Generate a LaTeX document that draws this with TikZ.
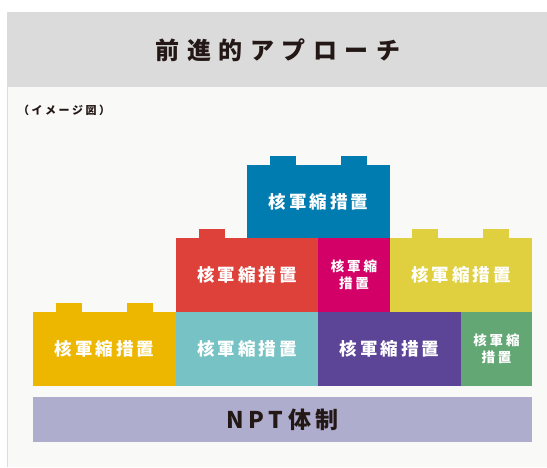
\documentclass[tikz,border=0pt]{standalone}
\usepackage{fontspec}
\newfontfamily\jp{Noto Sans CJK JP}
\usetikzlibrary{positioning}
\usetikzlibrary{calc}

\definecolor{hdrGray}{HTML}{DBDBDB}
\definecolor{panelBg}{HTML}{F9F9F7}
\definecolor{edgeGray}{HTML}{DDDDDD}
\definecolor{inkDark}{HTML}{231815}
\definecolor{nuBlue}{HTML}{007CB0}
\definecolor{nuRed}{HTML}{DE4139}
\definecolor{nuMagenta}{HTML}{D20067}
\definecolor{nuYellow}{HTML}{E0D040}
\definecolor{nuGold}{HTML}{EDB700}
\definecolor{nuTeal}{HTML}{77C2C4}
\definecolor{nuPurple}{HTML}{5C4497}
\definecolor{nuGreen}{HTML}{63A774}
\definecolor{nptBar}{HTML}{AEADCD}

% spread the letters of a word apart
\makeatletter
\newcommand\spreadtext[2]{\def\sp@kern{\kern#1}\sp@first#2\@nil}
\def\sp@first#1{#1\sp@loop}
\def\sp@loop#1{\ifx#1\@nil\else\sp@kern#1\expandafter\sp@loop\fi}
\makeatother

\begin{document}
\begin{tikzpicture}[x=1pt,y=1pt,node distance=0pt,
        brick/.style={fill=#1,text=white,inner sep=0pt,outer sep=0pt,
          minimum width=143pt,minimum height=74pt,align=center,
          font=\jp\bfseries\fontsize{17.5}{20}\selectfont},
        narrow/.style={minimum width=72pt,
          font=\jp\bfseries\fontsize{13.5}{16.5}\selectfont},
        stud/.style={fill=#1}]

\useasboundingbox (0,0) rectangle (547,467);
\fill[white] (0,0) rectangle (547,467);
\fill[panelBg] (7,0) rectangle (547,455);
\fill[hdrGray] (7,380) rectangle (547,455);
\draw[edgeGray,line width=1pt] (7.5,0) -- (7.5,380);

\node[text=inkDark,font=\jp\bfseries\fontsize{24}{28}\selectfont] (title) at (278,417)
   {\spreadtext{7.5pt}{前進的アプローチ}};
\node[text=inkDark,font=\jp\bfseries\fontsize{11}{13}\selectfont,inner sep=0pt,anchor=west] (note) at (18,357)
   {\spreadtext{2.5pt}{（イメージ図）}};

% bottom row
\node[brick=nuGold] (gold) at (104.5,118) {\spreadtext{3pt}{核軍縮措置}};
 \node[brick=nuTeal,minimum width=142pt] (teal) [right=of gold] {\spreadtext{3pt}{核軍縮措置}};
 \node[brick=nuPurple] (purple) [right=of teal] {\spreadtext{3pt}{核軍縮措置}};
 \node[brick=nuGreen,narrow,minimum width=71pt] (green) [right=of purple]
   {\spreadtext{3pt}{核軍縮}\\\spreadtext{3pt}{措置}};
% middle row
\node[brick=nuRed,minimum width=142pt] (red) [above=of teal] {\spreadtext{3pt}{核軍縮措置}};
 \node[brick=nuMagenta,narrow] (magenta) [right=of red]
   {\spreadtext{3pt}{核軍縮}\\\spreadtext{3pt}{措置}};
 \node[brick=nuYellow,minimum width=142pt] (yellow) [right=of magenta] {\spreadtext{3pt}{核軍縮措置}};
% top
\node[brick=nuBlue,minimum height=73pt,anchor=south west] (blue) at (red.north) {\spreadtext{3pt}{核軍縮措置}};

% studs on top of the bricks
\foreach \b/\c/\off in {gold/nuGold/23,gold/nuGold/94,red/nuRed/23,
        blue/nuBlue/23,blue/nuBlue/94,yellow/nuYellow/22,yellow/nuYellow/93}
  \fill[stud=\c] ($(\b.north west)+(\off,0)$) rectangle ++(26,9);

% base
\node[fill=nptBar,text=inkDark,inner sep=0pt,outer sep=0pt,minimum width=499pt,minimum height=45pt,
      font=\jp\bfseries\fontsize{23}{26}\selectfont] (npt) [below=11pt of gold.south west,anchor=north west]
   {\spreadtext{4.5pt}{NPT体制}};

\end{tikzpicture}
\end{document}
